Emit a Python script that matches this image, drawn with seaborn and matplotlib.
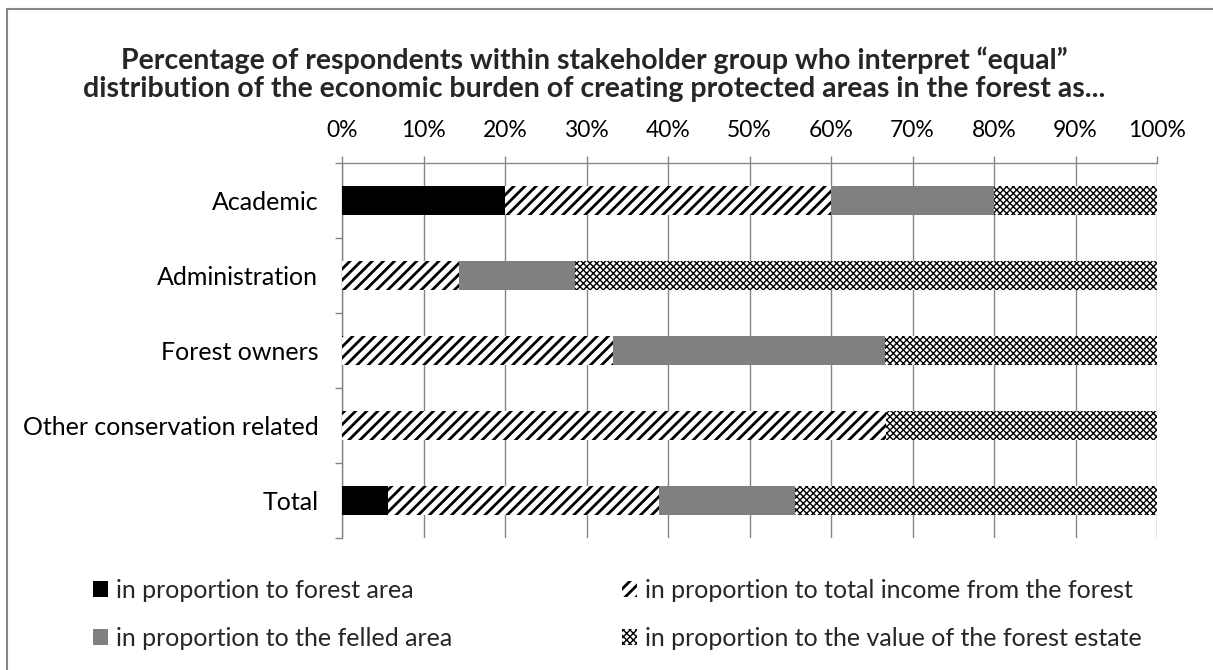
import numpy as np
import pandas as pd
import matplotlib
matplotlib.use("Agg")
import matplotlib.pyplot as plt
from matplotlib.patches import Patch, Rectangle
from matplotlib.ticker import FixedLocator, PercentFormatter
import seaborn as sns

# Stakeholder groups and the share (%) choosing each interpretation
groups = ["Academic", "Administration", "Forest owners",
          "Other conservation related", "Total"]
forest_area = [20.0, 0.0, 0.0, 0.0, 5.6]
total_income = [40.0, 14.3, 33.3, 66.7, 33.3]
felled_area = [20.0, 14.3, 33.3, 0.0, 16.7]
estate_value = [20.0, 71.4, 33.4, 33.3, 44.4]

series_labels = [
    "in proportion to forest area",
    "in proportion to total income from the forest",
    "in proportion to the felled area",
    "in proportion to the value of the forest estate",
]
tick_values = list(range(0, 101, 10))

sns.set_theme(style="white")
plt.rcParams["font.family"] = ["Lato", "DejaVu Sans"]

GRID = "#868686"
FS_LABEL = 18
FS_TICK = 16.5
FS_TITLE = 20.5

df = pd.DataFrame({
    "group": groups,
    "forest_area": forest_area,
    "total_income": total_income,
    "felled_area": felled_area,
    "estate_value": estate_value,
})
# cumulative ends for stacking (drawn back to front)
df["c1"] = df["forest_area"]
df["c2"] = df["c1"] + df["total_income"]
df["c3"] = df["c2"] + df["felled_area"]
df["c4"] = df["c3"] + df["estate_value"]

series_keys = ["forest_area", "total_income", "felled_area", "estate_value"]
styles = {
    "forest_area": dict(color="black", hatch=None, edgecolor="black", hlw=2.0),
    "total_income": dict(color="white", hatch="///", edgecolor="black", hlw=2.0),
    "felled_area": dict(color="#808080", hatch=None, edgecolor="#808080", hlw=2.0),
    "estate_value": dict(color="white", hatch="xxxxx", edgecolor="black", hlw=1.0),
}

fig = plt.figure(figsize=(12.13, 6.70), dpi=100)
ax = fig.add_axes([342 / 1213, 1 - 538 / 670, 815 / 1213, 375 / 670])

for col, key in [("c4", "estate_value"), ("c3", "felled_area"),
                 ("c2", "total_income"), ("c1", "forest_area")]:
    st = styles[key]
    with plt.rc_context({"hatch.linewidth": st["hlw"]}):
        sns.barplot(data=df, x=col, y="group", orient="h", ax=ax,
                    color=st["color"], saturation=1, width=0.38,
                    hatch=st["hatch"], edgecolor=st["edgecolor"],
                    linewidth=0, errorbar=None, zorder=3)

ax.set_xlim(0, 100)
ax.set_ylim(len(groups) - 0.5, -0.5)
ax.set_xlabel("")
ax.set_ylabel("")

# x axis on top with percent labels
ax.xaxis.tick_top()
ax.set_xticks(tick_values)
ax.xaxis.set_major_formatter(PercentFormatter(decimals=0))
ax.tick_params(axis="x", which="major", top=True, bottom=False,
               labeltop=True, labelbottom=False, length=5, width=1,
               color=GRID, pad=11, labelsize=FS_TICK, labelcolor="black")

# y ticks at the category boundaries
ax.yaxis.set_minor_locator(FixedLocator(np.arange(-0.5, len(groups), 1.0)))
ax.tick_params(axis="y", which="major", length=0, pad=17,
               labelsize=FS_LABEL, labelcolor="black")
ax.tick_params(axis="y", which="minor", left=True, length=5, width=1,
               color=GRID)

ax.grid(axis="x", color=GRID, linewidth=1)
ax.grid(axis="y", visible=False)
ax.set_axisbelow(True)
for side in ["right", "bottom"]:
    ax.spines[side].set_visible(False)
for side in ["top", "left"]:
    ax.spines[side].set_color(GRID)
    ax.spines[side].set_linewidth(1)

fig.text(594 / 1213, 1 - 74.5 / 670,
         "Percentage of respondents within stakeholder group who interpret \u201cequal\u201d\n"
         "distribution of the economic burden of creating protected areas in the forest as...",
         ha="center", va="center", fontsize=FS_TITLE, fontweight="bold",
         linespacing=1.08)

# legend: two columns x two rows, one entry each so every swatch
# keeps its own hatch line width
legend_cols = [93 / 1213, 622 / 1213]
legend_rows = [1 - 590 / 670, 1 - 638 / 670]
for i, key in enumerate(series_keys):
    st = styles[key]
    with plt.rc_context({"hatch.linewidth": st["hlw"]}):
        h = Patch(facecolor=st["color"], hatch=st["hatch"],
                  edgecolor=st["edgecolor"], linewidth=0)
        fig.legend([h], [series_labels[i]], frameon=False, fontsize=FS_LABEL,
                   handlelength=0.6, handleheight=0.6, handletextpad=0.3,
                   borderpad=0, borderaxespad=0, loc="center left",
                   bbox_to_anchor=(legend_cols[i % 2], legend_rows[i // 2]))

# chart border
fig.patches.append(Rectangle((7 / 1213, -0.2), 1.5, 1.2 - 8.5 / 670,
                             transform=fig.transFigure, fill=False,
                             edgecolor="#888888", linewidth=1.5))

fig.savefig("out.png", dpi=100)
